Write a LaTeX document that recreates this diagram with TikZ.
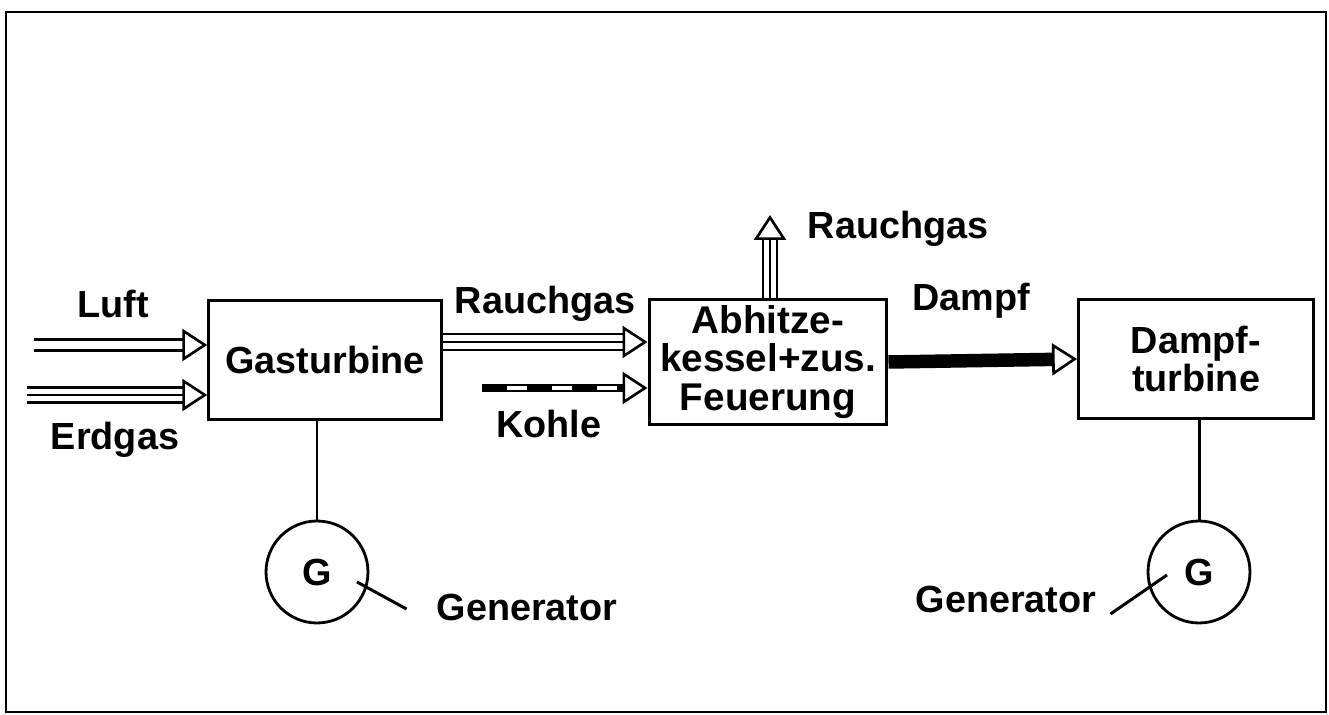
\documentclass[tikz,border=0pt]{standalone}
\usepackage{fontspec}
\setmainfont{Liberation Sans}
\usetikzlibrary{arrows.meta,calc}

\tikzset{
  block/.style={draw, line width=1.7pt, minimum width=4.65cm, minimum height=2.38cm, align=center},
  gen/.style={draw, circle, line width=1.6pt, minimum size=2.04cm, inner sep=0pt},
  openhead/.style={-{Triangle[length=0.5cm,width=0.64cm,line width=1.5pt,color=black,fill=white]}},
  rails/.style={double, double distance=0.25cm, line width=1.5pt, shorten >=0.48cm},
  core/.style={line width=1.5pt, openhead},
  coalbar/.style={line width=0.17cm, openhead},
  coaldash/.style={white, line width=0.07cm, dash pattern=on 0.4cm off 0.5cm, dash phase=0.4cm, shorten >=0.55cm},
  steambar/.style={line width=0.27cm, openhead},
  wire/.style={line width=1.7pt}
}

\begin{document}
\begin{tikzpicture}[x=0.02cm, y=-0.02cm, font=\fontsize{21.5}{22}\selectfont\bfseries]
\useasboundingbox (0,0) rectangle (1329,715);
\draw[line width=1.6pt] (6,12) rectangle (1326,712);

% blocks
\node[block] (gt) at (325,360) {Gasturbine};
\node[block, minimum width=4.76cm, minimum height=2.42cm, font=\fontsize{22}{22}\selectfont\bfseries] (abh) at (768,362) {Abhitze-\\kessel+zus.\\Feuerung};
\node[block, minimum width=4.7cm] (dt) at (1196,359) {Dampf-\\turbine};
\node[gen] (gen1) at (317,572) {G};
\node[gen] (gen2) at (1199,572) {G};

% labels
\node (luft) at (113,304) {Luft};
\node (erdgas) at (115,440) {Erdgas};
\node (rgas1) at (545,304) {Rauchgas};
\node (kohle) at (549,424) {Kohle};
\node (rgas2) at (898,229) {Rauchgas};
\node (dampf) at (971,301) {Dampf};
\node (genlab1) at (527,607) {Generator};
\node (genlab2) at (1006,599) {Generator};

% free ends
\coordinate (luftin) at (34,345);
\coordinate (erdgasin) at (27,395);
\coordinate (rgasout) at (gt.east |- 0,342);
\coordinate (kohlein) at (482,388);
\coordinate (stack) at (770,215);

% Luft
\draw[rails, double distance=0.17cm] (luftin) -- (luftin -| gt.west);
\draw[core, draw=white] (luftin) -- (luftin -| gt.west);
% Erdgas
\draw[rails] (erdgasin) -- (erdgasin -| gt.west);
\draw[core] (erdgasin) -- (erdgasin -| gt.west);
% Rauchgas
\draw[rails, double distance=0.27cm] (rgasout) -- (rgasout -| abh.west);
\draw[core] (rgasout) -- (rgasout -| abh.west);
% Kohle
\draw[coalbar] (kohlein) -- (kohlein -| abh.west);
\draw[coaldash] (kohlein) -- (kohlein -| abh.west);
% Rauchgas out
\draw[rails, double distance=0.23cm] (stack |- abh.north) -- (stack);
\draw[core] (stack |- abh.north) -- (stack);
% Dampf
\draw[steambar] (abh.east) -- (dt.west);

% generators
\draw[wire] (gen1.north) -- (gen1.north |- gt.south);
\draw[wire] (gen2.north) -- (gen2.north |- dt.south);
\draw[wire] ([shift={(40,10)}]gen1.center) -- ([shift={(-24,2)}]genlab1.west);
\draw[wire] ([shift={(-32,3)}]gen2.center) -- ([shift={(8,15)}]genlab2.east);
\end{tikzpicture}
\end{document}
